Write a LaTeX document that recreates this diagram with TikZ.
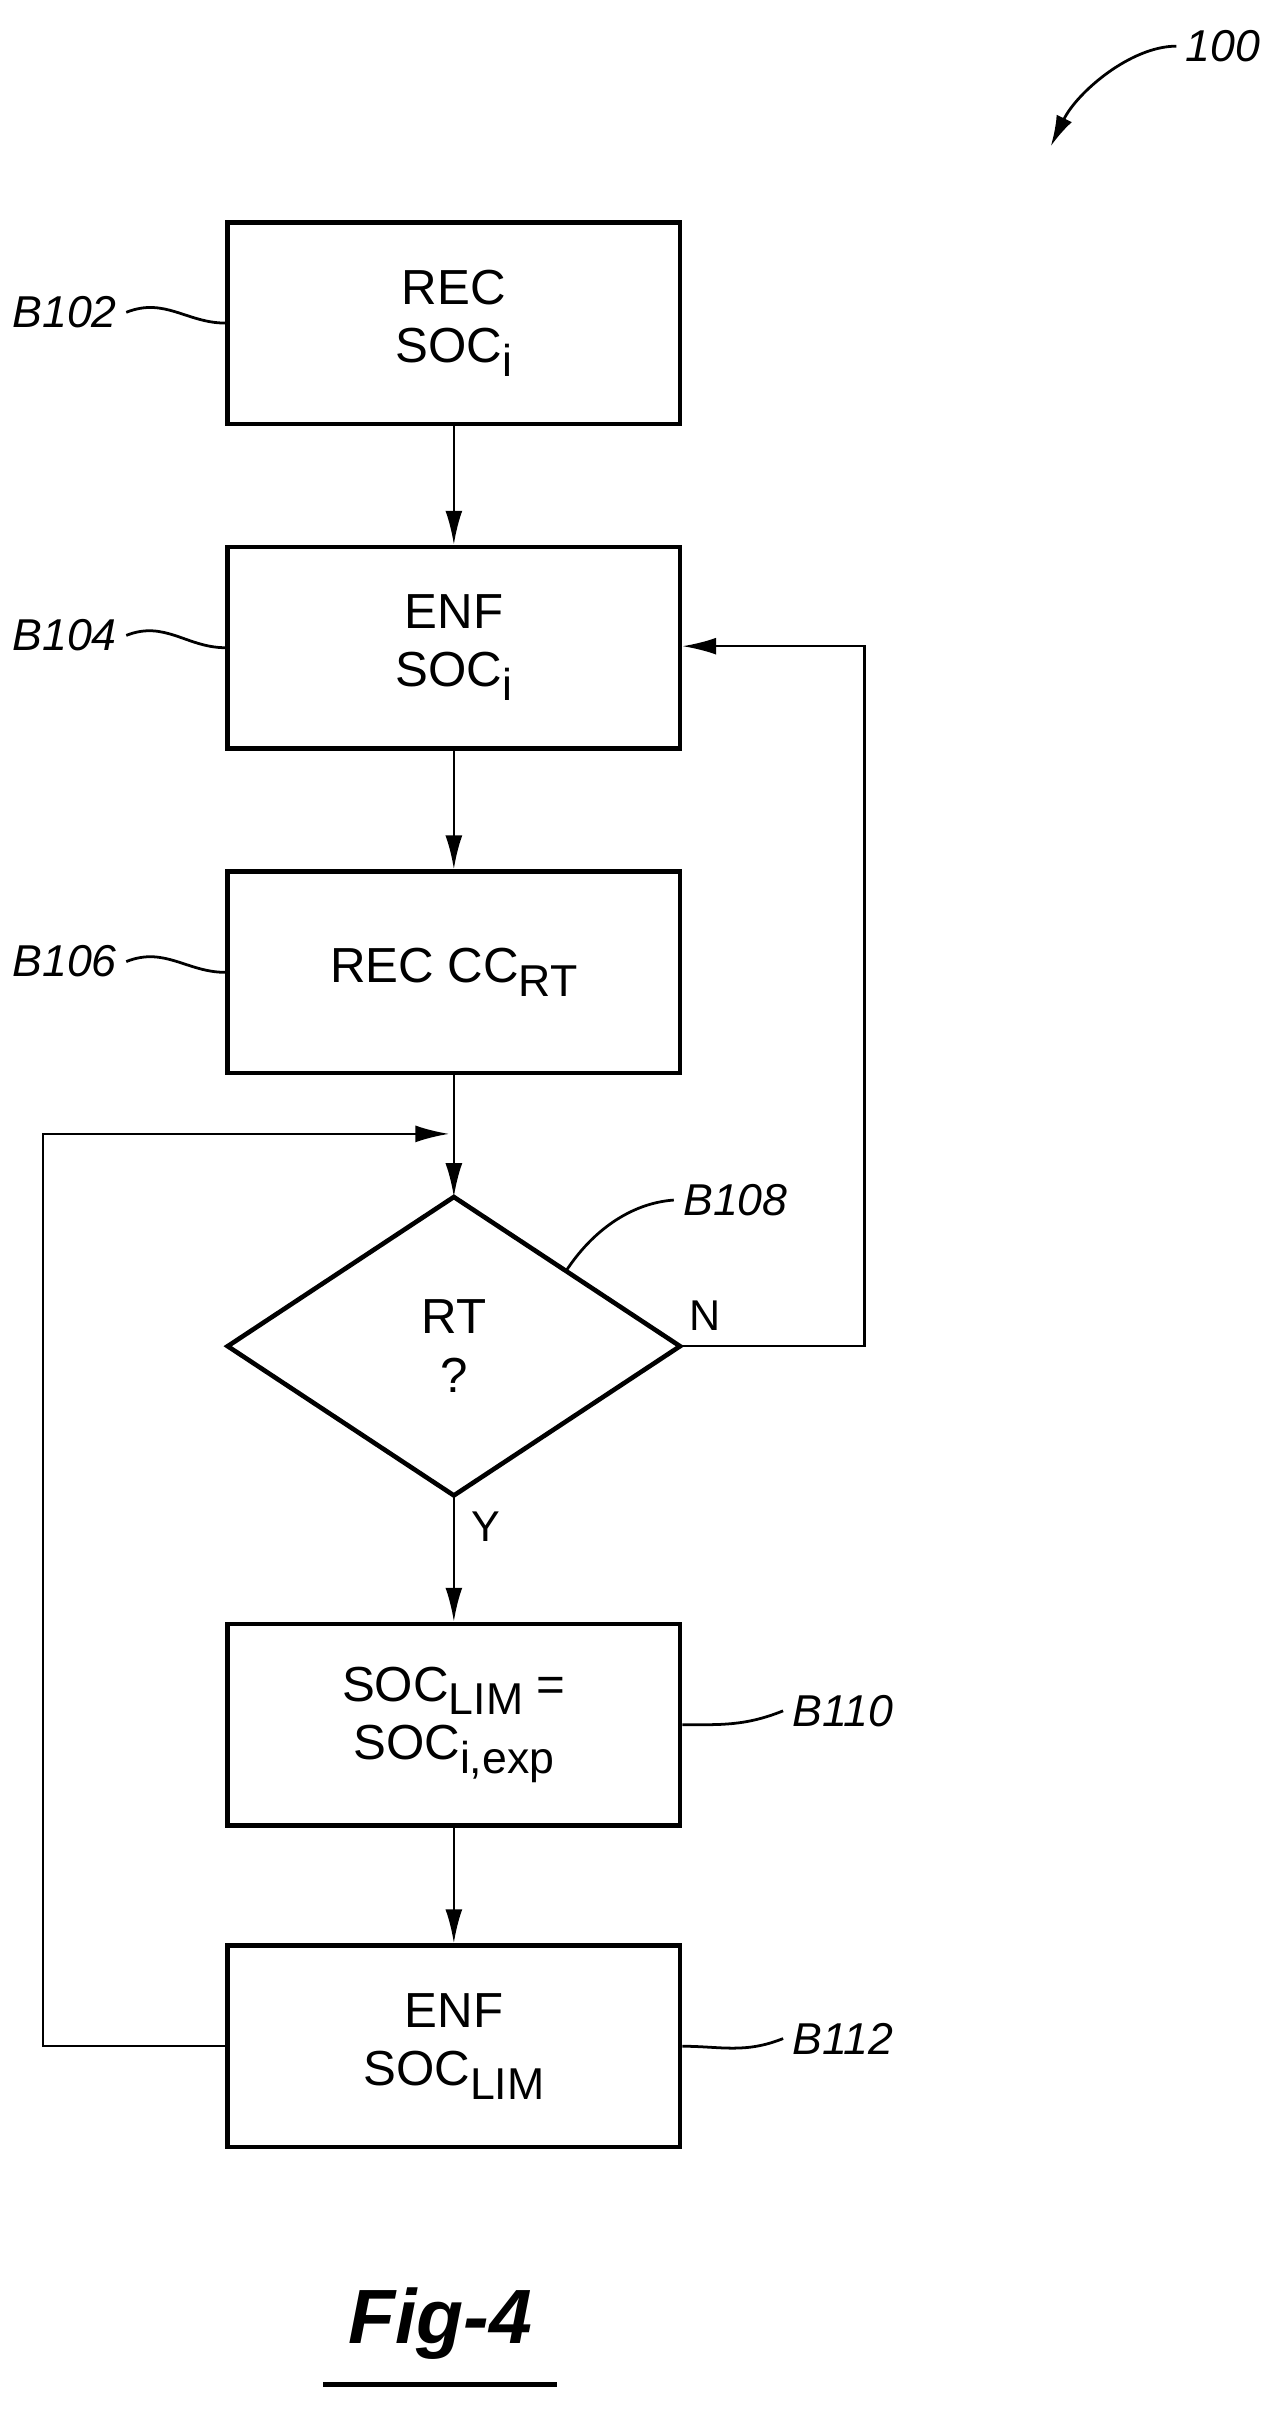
\documentclass[tikz,border=0pt]{standalone}
\usepackage{fontspec}
\setmainfont{Liberation Sans}
\usetikzlibrary{arrows.meta}
\newcommand{\mysub}[1]{\raisebox{-9pt}{\fontsize{29}{30}\selectfont #1}}
\begin{document}
\begin{tikzpicture}[x=1pt,y=-1pt,
  box/.style={draw,line width=3pt,minimum width=294pt,minimum height=131pt,align=center,font=\fontsize{32}{38}\selectfont,inner sep=0},
  con/.style={line width=1.6pt,-{Latex[length=22pt,width=11pt]}},
  ln/.style={line width=1.8pt},
  lbl/.style={font=\itshape\fontsize{29}{30}\selectfont,inner sep=0}]
\useasboundingbox (0,0) rectangle (830,1571);
\node[box] (b102) at (295,210) {REC\\SOC\mysub{i}};
\node[box] (b104) at (295,421) {ENF\\SOC\mysub{i}};
\node[box] (b106) at (295,632) {REC CC\mysub{RT}};
\coordinate (dt) at (295,778); \coordinate (db) at (295,972);
\coordinate (dl) at (148,875); \coordinate (dr) at (442,875);
\draw[line width=3pt] (dt) -- (dr) -- (db) -- (dl) -- cycle;
\node[font=\fontsize{32}{38}\selectfont,align=center] (d) at (295,875) {RT\\?};
\node[box] (b110) at (295,1121) {SOC\mysub{LIM} =\\SOC\mysub{i,exp}};
\node[box] (b112) at (295,1330) {ENF\\SOC\mysub{LIM}};
\draw[con] (b102) -- (b104);
\draw[con] (b104) -- (b106);
\draw[con] (b106) -- (dt);
\draw[con] (db) -- (b110);
\draw[con] (b110) -- (b112);
\coordinate (n1) at (562,875); \coordinate (n2) at (562,420);
\draw[con] (dr) -- (n1) -- (n2) -- (b104.east |- n2);
\coordinate (l1) at (28,1330); \coordinate (l2) at (28,737); \coordinate (l3) at (292,737);
\draw[con] (b112.west) -- (l1) -- (l2) -- (l3);
\node[font=\fontsize{28}{30}\selectfont] (nl) at (458,855) {N};
\node[font=\fontsize{28}{30}\selectfont] (yl) at (316,992) {Y};
\node[lbl] (l102) at (42,203) {B102};
\node[lbl] (l104) at (42,413) {B104};
\node[lbl] (l106) at (42,625) {B106};
\node[lbl] (l108) at (478,780) {B108};
\node[lbl] (l110) at (548,1112) {B110};
\node[lbl] (l112) at (548,1325) {B112};
\node[lbl] (l100) at (795,30) {100};
\draw[ln] (l102.east)++(6,0) .. controls +(25,-10) and +(-25,0) .. (b102.west);
\draw[ln] (l104.east)++(6,0) .. controls +(25,-10) and +(-25,0) .. (b104.west);
\draw[ln] (l106.east)++(6,0) .. controls +(25,-10) and +(-25,0) .. (b106.west);
\draw[ln] (b110.east) .. controls +(25,0) and +(-25,10) .. ([xshift=-6pt]l110.west);
\draw[ln] (b112.east) .. controls +(25,0) and +(-25,10) .. ([xshift=-6pt]l112.west);
\draw[ln] (368,826) .. controls (385,800) and (410,782) .. ([xshift=-6pt]l108.west);
\draw[line width=1.8pt,-{Latex[length=20pt,width=11pt]}] ([xshift=-6pt]l100.west) .. controls (735,30) and (700,60) .. (683,95);
\node[font=\bfseries\itshape\fontsize{50}{56}\selectfont] (fig) at (286,1510) {Fig-4};
\draw[line width=3pt] (210,1550) -- (362,1550);
\end{tikzpicture}
\end{document}
